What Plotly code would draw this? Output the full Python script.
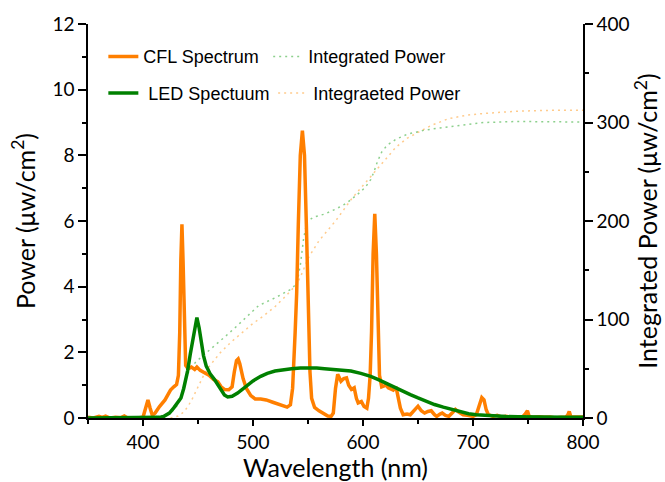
import plotly.graph_objects as go

# ---------------- data ----------------
cfl_nm = [350, 355, 360, 363, 366, 370, 375, 380, 383, 386, 390, 395, 400, 402, 404.5, 406.5, 408.5, 411,
          415, 420, 425, 428, 430.5, 432.2, 433.4, 434.4, 435.4, 436.4, 437.6, 438.8, 441, 444, 447, 449,
          452, 456, 460, 464, 468, 471, 474, 478, 481, 483, 485, 486.5, 488, 491, 494, 498, 502, 507, 512,
          518, 523, 528, 531, 534, 536, 538.3, 539.7, 541.2, 543, 544.9, 546.8, 548.5, 550.2, 551.8, 553.3,
          556, 560, 564, 568, 571, 573, 575, 577, 580, 582.5, 585, 587, 589.5, 592, 594, 595.6, 598.5,
          601, 603.5, 605, 606.5, 607.8, 609.2, 610.7, 612.2, 613.6, 615, 617, 619, 621, 623, 625, 627.5,
          630, 632, 634, 636.5, 640, 643, 647, 650, 653, 656, 659, 662, 665, 667, 670, 672, 675, 678,
          681, 684, 687, 691, 695, 700, 703, 705.5, 708, 710, 712, 714, 718, 722, 726, 730, 735, 740,
          745, 747.5, 749.5, 751, 755, 760, 765, 770, 775, 780, 784, 786, 787.5, 789, 795, 800]
cfl_pw = [0.02, 0.0, 0.05, 0.02, 0.06, 0.0, 0.02, 0.01, 0.06, 0.0, 0.01, 0.0, 0.02, 0.25, 0.55, 0.3, 0.08, 0.15,
          0.35, 0.55, 0.85, 0.95, 1.02, 1.3, 2.6, 4.8, 5.9, 4.8, 2.6, 1.6, 1.5, 1.55, 1.48, 1.55,
          1.45, 1.38, 1.3, 1.18, 1.1, 0.95, 0.87, 0.86, 0.95, 1.4, 1.75, 1.8, 1.65, 1.2, 0.9, 0.68, 0.58, 0.58, 0.55,
          0.48, 0.42, 0.35, 0.33, 0.4, 0.9, 2.6, 3.8, 5.9, 8.0, 8.75, 8.0, 5.9, 3.0, 1.4, 0.6,
          0.32, 0.22, 0.15, 0.06, 0.05, 0.15, 0.9, 1.33, 1.12, 1.2, 1.22, 1.0, 0.87, 0.92, 0.6, 0.46, 0.5,
          0.35, 0.3, 0.6, 1.3, 2.65, 5.0, 6.22, 5.0, 2.65, 1.3, 0.95, 0.98, 1.0, 0.92, 0.9, 0.85,
          0.95, 0.65, 0.3, 0.1, 0.12, 0.1, 0.25, 0.36, 0.22, 0.15, 0.2, 0.22, 0.1, 0.05, 0.12, 0.15, 0.08, 0.05,
          0.15, 0.26, 0.18, 0.1, 0.08, 0.05, 0.1, 0.35, 0.62, 0.55, 0.25, 0.1, 0.05, 0.08, 0.03, 0.05, 0.02, 0.04,
          0.03, 0.12, 0.22, 0.05, 0.02, 0.04, 0.02, 0.03, 0.0, 0.02, 0.02, 0.08, 0.2, 0.03, 0.02, 0.03]

led_nm = [350, 400, 410, 415, 419, 424, 428, 431, 434.5, 437, 440.5, 443, 445, 447, 449, 451, 453, 455, 457.5,
          461, 465, 468, 471, 474, 477, 481, 486, 490, 495, 500, 507, 513, 520, 527, 535, 543, 550, 558,
          565, 573, 580, 589, 598, 607, 614, 620, 628, 635, 643, 650, 658, 665, 673, 681, 688, 696, 703,
          711, 720, 730, 741, 755, 770, 785, 800]
led_pw = [0.0, 0.0, 0.0, 0.02, 0.05, 0.15, 0.31, 0.45, 0.61, 0.9, 1.43, 1.95, 2.35, 2.8, 3.06, 2.75, 2.3, 1.9, 1.58,
          1.35, 1.17, 1.0, 0.82, 0.7, 0.64, 0.66, 0.76, 0.87, 1.02, 1.13, 1.27, 1.36, 1.43, 1.47, 1.5, 1.52, 1.53, 1.52,
          1.5, 1.48, 1.47, 1.43, 1.36, 1.27, 1.17, 1.07, 0.95, 0.82, 0.71, 0.61, 0.5, 0.41, 0.33, 0.26, 0.19, 0.13, 0.1,
          0.08, 0.06, 0.045, 0.035, 0.025, 0.02, 0.02, 0.02]

cfl_int_nm = [400, 410, 420, 428, 432, 435, 438, 442, 448, 455, 465, 475, 485, 495, 505, 520, 535, 540, 543,
              546, 549, 555, 565, 575, 585, 595, 602, 607, 610, 613, 617, 622, 630, 640, 655, 670, 690, 710,
              740, 770, 800]
cfl_int = [0, 1, 3, 8, 14, 22, 38, 48, 57, 64, 73, 83, 93, 104, 114, 122, 131, 137, 155,
           182, 199, 204, 207, 212, 218, 227, 234, 242, 250, 260, 270, 277, 283, 288, 292, 294.5, 297.5, 300,
           301, 300.5, 300.5]

led_int_nm = [425, 432, 437, 441, 445, 450, 455, 460, 470, 480, 490, 500, 510, 520, 530, 540, 545, 550, 560,
              575, 590, 600, 610, 620, 630, 640, 650, 662, 678, 695, 708, 740, 770, 800]
led_int = [0, 2, 6, 12, 20, 32, 43, 52, 66, 77, 87, 96, 104, 113, 124, 136, 148, 162, 180,
           200, 223, 236, 248, 262, 275, 284, 290, 297, 304, 307.5, 309, 311.5, 312.3, 312.5]

x_ticks = [400, 500, 600, 700, 800]
y_ticks = [0, 2, 4, 6, 8, 10, 12]
y2_ticks = [0, 100, 200, 300, 400]

ORANGE = "#ff7f00"
GREEN = "#008000"
TICKFONT = dict(family="Lato", size=19, color="black")
TITLEFONT = dict(family="Lato", size=25, color="black")
LEGFONT = dict(family="Liberation Sans, Arial", size=18, color="black")

fig = go.Figure()

# integrated curves on primary (right) axis, drawn underneath
fig.add_trace(go.Scatter(x=cfl_int_nm, y=cfl_int, mode="lines", name="Integrated Power",
                         line=dict(color="rgba(0,150,0,0.45)", width=1.5, dash="2px,4px"),
                         yaxis="y", legend="legend3"))
fig.add_trace(go.Scatter(x=led_int_nm, y=led_int, mode="lines", name="Integraeted Power",
                         line=dict(color="rgba(255,140,0,0.45)", width=1.5, dash="2px,4px"),
                         yaxis="y", legend="legend4"))
# spectra on overlaying (left) axis
fig.add_trace(go.Scatter(x=cfl_nm, y=cfl_pw, mode="lines", name="CFL Spectrum",
                         line=dict(color=ORANGE, width=3.5), yaxis="y2", legend="legend"))
fig.add_trace(go.Scatter(x=led_nm, y=led_pw, mode="lines", name="\u00a0LED Spectuum",
                         line=dict(color=GREEN, width=3.5), yaxis="y2", legend="legend2"))

axis_common = dict(showline=True, linecolor="black", linewidth=1.5, showgrid=False, zeroline=False,
                   ticks="outside", tickcolor="black", tickwidth=1.5, tickfont=TICKFONT,
                   title_font=TITLEFONT, automargin=False)

fig.update_layout(
    width=665, height=482,
    margin=dict(l=88, r=82, t=24, b=64),
    plot_bgcolor="white", paper_bgcolor="white",
    xaxis=dict(range=[350, 800], tickvals=x_ticks, ticklen=6,
               minor=dict(dtick=50, tick0=350, ticklen=4, ticks="outside", tickcolor="black", tickwidth=1.5),
               title=dict(text="Wavelength (nm)", standoff=6), **axis_common),
    yaxis=dict(range=[0, 400], tickvals=y2_ticks, side="right", ticklen=8,
               minor=dict(dtick=50, ticklen=4, ticks="outside", tickcolor="black", tickwidth=1.5),
               title=dict(text="Integrated Power (\u03bcw/cm<sup>2</sup>)", standoff=2), **axis_common),
    yaxis2=dict(range=[0, 12], tickvals=y_ticks, side="left", overlaying="y", ticklen=8,
                minor=dict(dtick=1, ticklen=4, ticks="outside", tickcolor="black", tickwidth=1.5),
                title=dict(text="Power (\u03bcw/cm<sup>2</sup>)", standoff=10), **axis_common),
    legend=dict(x=0.031, y=0.917, xanchor="left", yanchor="middle", font=LEGFONT, bgcolor="rgba(0,0,0,0)"),
    legend2=dict(x=0.031, y=0.824, xanchor="left", yanchor="middle", font=LEGFONT, bgcolor="rgba(0,0,0,0)"),
    legend3=dict(x=0.364, y=0.917, xanchor="left", yanchor="middle", font=LEGFONT, bgcolor="rgba(0,0,0,0)"),
    legend4=dict(x=0.374, y=0.824, xanchor="left", yanchor="middle", font=LEGFONT, bgcolor="rgba(0,0,0,0)"),
    showlegend=True,
)

fig.write_html("out.html")
